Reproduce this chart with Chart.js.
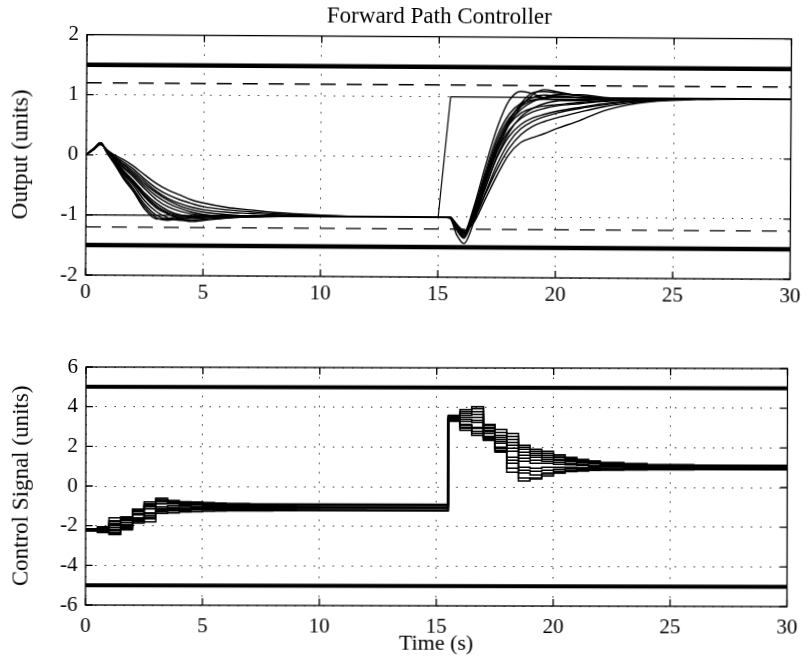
<!DOCTYPE html>
<html>
<head>
<meta charset="utf-8">
<script src="https://cdn.jsdelivr.net/npm/chart.js@4.4.0/dist/chart.umd.min.js"></script>
<style>
  html, body { margin: 0; background: #fff; overflow: hidden; }
  .panel { position: absolute; left: 0; width: 807px; }
  #top { top: 0; height: 300px; transform-origin: 87px 35px; transform: rotate(0.35deg); }
  #bottom { top: 300px; height: 364px; transform-origin: 86px 67px; transform: rotate(0.13deg); }
</style>
</head>
<body>
<div class="panel" id="top"><canvas id="outputChart" width="807" height="300"></canvas></div>
<div class="panel" id="bottom"><canvas id="controlChart" width="807" height="364"></canvas></div>
<script>
// sample times of the plant output traces (s)
const outTimes = [0, 0.3, 0.6, 0.9, 1.2, 1.6, 2, 2.5, 3, 3.5, 4, 4.5, 5, 6, 7, 8, 10, 12, 15,
  15.5, 15.8, 16.1, 16.5, 17, 17.5, 18, 18.5, 19, 19.5, 20, 21, 22, 23, 24, 26, 30];

// output of each closed-loop run
const outputRuns = [
  [0, 0.08, 0.17, 0.08, 0.0, -0.08, -0.18, -0.33, -0.47, -0.58, -0.66, -0.74, -0.79, -0.86, -0.9, -0.94, -0.98, -1.0, -1.0,
   -1.0, -1.15, -1.25, -0.85, -0.15, 0.5, 0.95, 1.1, 1.06, 0.99, 0.96, 0.95, 0.97, 0.98, 0.99, 1.0, 1.0],
  [0, 0.09, 0.18, 0.06, -0.04, -0.15, -0.27, -0.44, -0.6, -0.72, -0.8, -0.86, -0.9, -0.94, -0.96, -0.98, -1.0, -1.0, -1.0,
   -1.02, -1.3, -1.44, -1.1, -0.45, 0.1, 0.55, 0.85, 1.05, 1.13, 1.1, 1.03, 1.0, 0.99, 1.0, 1.0, 1.0],
  [0, 0.1, 0.19, 0.05, -0.07, -0.22, -0.36, -0.56, -0.74, -0.86, -0.93, -0.97, -0.99, -1.0, -1.0, -1.0, -1.0, -1.0, -1.0,
   -1.0, -1.12, -1.22, -1.1, -0.7, -0.3, 0.05, 0.25, 0.33, 0.4, 0.48, 0.62, 0.78, 0.88, 0.94, 0.98, 1.0],
  [0, 0.1, 0.2, 0.04, -0.1, -0.3, -0.47, -0.7, -0.88, -0.98, -1.03, -1.05, -1.04, -1.02, -1.01, -1.0, -1.0, -1.0, -1.0,
   -1.0, -1.15, -1.25, -1.0, -0.5, 0.0, 0.35, 0.55, 0.66, 0.72, 0.77, 0.84, 0.9, 0.94, 0.97, 0.99, 1.0],
  [0, 0.1, 0.2, 0.03, -0.12, -0.35, -0.55, -0.82, -1.0, -1.06, -1.06, -1.04, -1.02, -1.01, -1.0, -1.0, -1.0, -1.0, -1.0,
   -1.0, -1.18, -1.27, -0.95, -0.35, 0.2, 0.55, 0.74, 0.82, 0.86, 0.88, 0.92, 0.95, 0.97, 0.99, 1.0, 1.0],
  [0, 0.1, 0.2, 0.02, -0.15, -0.4, -0.6, -0.9, -1.06, -1.05, -1.02, -1.01, -1.0, -1.0, -1.0, -1.0, -1.0, -1.0, -1.0,
   -1.0, -1.2, -1.3, -0.9, -0.25, 0.35, 0.72, 0.9, 0.96, 0.97, 0.97, 0.97, 0.98, 0.99, 1.0, 1.0, 1.0],
  [0, 0.1, 0.2, 0.04, -0.1, -0.32, -0.5, -0.76, -0.94, -1.04, -1.08, -1.08, -1.06, -1.03, -1.01, -1.0, -1.0, -1.0, -1.0,
   -1.0, -1.16, -1.24, -1.05, -0.6, -0.12, 0.25, 0.48, 0.6, 0.68, 0.74, 0.82, 0.88, 0.93, 0.96, 0.99, 1.0],
  [0, 0.09, 0.19, 0.06, -0.05, -0.2, -0.33, -0.52, -0.68, -0.8, -0.88, -0.94, -0.98, -1.02, -1.02, -1.01, -1.0, -1.0, -1.0,
   -1.0, -1.2, -1.32, -0.92, -0.3, 0.28, 0.65, 0.85, 0.95, 1.0, 1.02, 1.0, 0.99, 0.99, 1.0, 1.0, 1.0],
  [0, 0.09, 0.18, 0.07, -0.03, -0.17, -0.3, -0.48, -0.63, -0.75, -0.84, -0.9, -0.94, -0.98, -1.0, -1.0, -1.0, -1.0, -1.0,
   -1.0, -1.17, -1.26, -0.98, -0.42, 0.1, 0.45, 0.65, 0.76, 0.82, 0.86, 0.9, 0.94, 0.96, 0.98, 1.0, 1.0],
  [0, 0.1, 0.2, 0.05, -0.08, -0.26, -0.42, -0.63, -0.8, -0.92, -0.99, -1.02, -1.02, -1.01, -1.0, -1.0, -1.0, -1.0, -1.0,
   -1.0, -1.22, -1.35, -1.0, -0.4, 0.15, 0.6, 0.9, 1.08, 1.1, 1.08, 1.03, 1.0, 0.99, 1.0, 1.0, 1.0],
  [0, 0.09, 0.18, 0.07, -0.02, -0.12, -0.23, -0.4, -0.55, -0.66, -0.74, -0.8, -0.85, -0.9, -0.93, -0.96, -0.99, -1.0, -1.0,
   -1.0, -1.14, -1.23, -1.06, -0.62, -0.2, 0.15, 0.38, 0.52, 0.6, 0.66, 0.76, 0.85, 0.91, 0.95, 0.99, 1.0],
  [0, 0.1, 0.2, 0.05, -0.1, -0.28, -0.45, -0.68, -0.85, -0.95, -1.0, -1.01, -1.01, -1.0, -1.0, -1.0, -1.0, -1.0, -1.0,
   -1.0, -1.19, -1.29, -0.97, -0.38, 0.2, 0.62, 0.88, 1.0, 1.04, 1.03, 1.0, 0.99, 0.99, 1.0, 1.0, 1.0],
  [0, 0.1, 0.19, 0.04, -0.09, -0.27, -0.44, -0.66, -0.84, -0.97, -1.06, -1.1, -1.08, -1.04, -1.01, -1.0, -1.0, -1.0, -1.0,
   -1.0, -1.17, -1.27, -1.02, -0.52, 0.02, 0.42, 0.68, 0.82, 0.9, 0.94, 0.96, 0.98, 0.99, 1.0, 1.0, 1.0],
  [0, 0.1, 0.2, 0.03, -0.13, -0.38, -0.58, -0.86, -1.04, -1.08, -1.05, -1.02, -1.01, -1.0, -1.0, -1.0, -1.0, -1.0, -1.0,
   -1.0, -1.2, -1.33, -0.95, -0.33, 0.22, 0.58, 0.8, 0.93, 1.0, 1.05, 1.05, 1.01, 0.99, 1.0, 1.0, 1.0]
];

// setpoint (demand) signal
const refTimes = [0, 15, 15.5, 30];
const refValues = [-1, -1, 1, 1];

// output limits: hard (thick) and soft (dashed)
const outHardLimit = 1.5;
const outSoftLimit = 1.2;

// sample instants of the held control signal (s)
const ctrlTimes = [0, 0.5, 1, 1.5, 2, 2.5, 3, 3.5, 4, 4.5, 5, 5.5, 6, 7, 8, 9, 10, 12,
  15.5, 16, 16.5, 17, 17.5, 18, 18.5, 19, 19.5, 20, 20.5, 21, 21.5, 22, 23, 24, 26, 30];

const controlRuns = [
  [-2.2, -2.05, -1.6, -1.55, -1.16, -0.8, -0.6, -0.72, -0.78, -0.8, -0.82, -0.85, -0.87, -0.88, -0.88, -0.88, -0.88, -0.88,
   3.6, 3.9, 4.05, 3.15, 2.9, 2.7, 2.1, 1.9, 1.8, 1.62, 1.5, 1.4, 1.32, 1.25, 1.2, 1.15, 1.12, 1.1],
  [-2.2, -2.15, -1.8, -1.7, -1.3, -0.95, -0.7, -0.78, -0.82, -0.85, -0.87, -0.88, -0.9, -0.9, -0.9, -0.9, -0.9, -0.9,
   3.55, 3.7, 3.8, 3.0, 2.6, 2.4, 1.9, 1.7, 1.6, 1.5, 1.4, 1.3, 1.25, 1.2, 1.15, 1.1, 1.08, 1.07],
  [-2.2, -2.2, -2.0, -1.85, -1.45, -1.15, -0.9, -0.9, -0.92, -0.95, -0.97, -0.98, -0.98, -0.98, -0.97, -0.96, -0.95, -0.95,
   3.5, 3.5, 3.5, 2.85, 2.4, 2.1, 1.6, 1.5, 1.4, 1.35, 1.3, 1.22, 1.18, 1.12, 1.08, 1.05, 1.03, 1.02],
  [-2.25, -2.25, -2.1, -1.95, -1.6, -1.35, -1.05, -1.0, -1.0, -1.02, -1.03, -1.04, -1.05, -1.05, -1.05, -1.05, -1.05, -1.05,
   3.45, 3.3, 3.25, 2.7, 2.2, 1.8, 1.3, 1.2, 1.2, 1.15, 1.12, 1.1, 1.05, 1.02, 1.0, 1.0, 1.0, 1.0],
  [-2.25, -2.3, -2.25, -2.05, -1.7, -1.5, -1.2, -1.15, -1.12, -1.12, -1.12, -1.13, -1.14, -1.15, -1.15, -1.16, -1.17, -1.18,
   3.4, 3.15, 3.0, 2.55, 2.0, 1.5, 1.0, 0.95, 1.0, 1.0, 1.0, 0.98, 0.97, 0.96, 0.96, 0.96, 0.96, 0.96],
  [-2.2, -2.35, -2.4, -2.15, -1.8, -1.65, -1.3, -1.25, -1.22, -1.2, -1.2, -1.2, -1.2, -1.2, -1.2, -1.2, -1.2, -1.2,
   3.35, 3.0, 2.8, 2.45, 1.85, 1.2, 0.7, 0.6, 0.7, 0.8, 0.85, 0.88, 0.9, 0.9, 0.91, 0.92, 0.93, 0.93],
  [-2.15, -2.3, -2.45, -2.2, -1.87, -1.8, -1.37, -1.35, -1.3, -1.28, -1.26, -1.25, -1.24, -1.23, -1.22, -1.21, -1.21, -1.21,
   3.3, 2.85, 2.6, 2.35, 1.75, 0.75, 0.3, 0.45, 0.65, 0.72, 0.8, 0.82, 0.85, 0.86, 0.87, 0.88, 0.89, 0.9],
  [-2.2, -2.1, -1.9, -1.6, -1.25, -1.0, -0.75, -0.8, -0.85, -0.88, -0.9, -0.92, -0.93, -0.93, -0.93, -0.93, -0.93, -0.93,
   3.5, 3.6, 3.65, 2.95, 2.5, 2.25, 1.75, 1.6, 1.5, 1.4, 1.33, 1.25, 1.2, 1.15, 1.1, 1.07, 1.05, 1.04],
  [-2.2, -2.25, -1.95, -1.75, -1.4, -1.05, -0.8, -0.85, -0.88, -0.9, -0.92, -0.94, -0.95, -0.96, -0.96, -0.95, -0.95, -0.95,
   3.42, 3.4, 3.35, 2.78, 2.3, 1.95, 1.45, 1.35, 1.3, 1.25, 1.2, 1.15, 1.1, 1.07, 1.03, 1.02, 1.0, 1.0],
  [-2.22, -2.3, -2.2, -2.0, -1.65, -1.4, -1.12, -1.08, -1.06, -1.07, -1.08, -1.09, -1.1, -1.1, -1.1, -1.1, -1.1, -1.1,
   3.38, 3.1, 2.95, 2.5, 1.95, 1.35, 0.85, 0.8, 0.85, 0.9, 0.92, 0.92, 0.93, 0.93, 0.94, 0.94, 0.95, 0.95],
  [-2.18, -2.12, -1.75, -1.62, -1.2, -0.88, -0.65, -0.75, -0.8, -0.83, -0.85, -0.87, -0.88, -0.89, -0.9, -0.9, -0.9, -0.9,
   3.58, 3.8, 3.95, 3.1, 2.75, 2.55, 2.0, 1.8, 1.7, 1.56, 1.45, 1.35, 1.28, 1.22, 1.17, 1.12, 1.1, 1.08],
  [-2.24, -2.32, -2.35, -2.1, -1.75, -1.58, -1.25, -1.2, -1.17, -1.16, -1.16, -1.17, -1.17, -1.18, -1.18, -1.18, -1.19, -1.19,
   3.36, 2.95, 2.7, 2.4, 1.8, 0.95, 0.45, 0.4, 0.55, 0.7, 0.78, 0.82, 0.86, 0.88, 0.89, 0.9, 0.91, 0.92]
];

// actuator limits
const ctrlHardLimit = 5;

const serif = 'Liberation Serif';
Chart.defaults.font.family = serif;
Chart.defaults.color = '#000';

function pts(xs, ys) {
  return xs.map((x, i) => ({ x: x, y: ys[i] }));
}

function flat(value, width, dash) {
  return {
    data: [{ x: 0, y: value }, { x: 30, y: value }],
    borderColor: '#000',
    borderWidth: width,
    borderDash: dash || [],
    pointRadius: 0,
    tension: 0
  };
}

// box round the axes plus MATLAB style inward tick marks
const framePlugin = {
  id: 'frame',
  afterDraw(chart) {
    const { ctx, chartArea: a, scales: { x, y } } = chart;
    ctx.save();
    ctx.strokeStyle = '#000';
    ctx.lineWidth = 1.3;
    ctx.strokeRect(a.left, a.top, a.right - a.left, a.bottom - a.top);
    ctx.beginPath();
    x.ticks.forEach(t => {
      const px = x.getPixelForValue(t.value);
      ctx.moveTo(px, a.bottom); ctx.lineTo(px, a.bottom - 7);
      ctx.moveTo(px, a.top); ctx.lineTo(px, a.top + 7);
    });
    y.ticks.forEach(t => {
      const py = y.getPixelForValue(t.value);
      ctx.moveTo(a.left, py); ctx.lineTo(a.left + 7, py);
      ctx.moveTo(a.right, py); ctx.lineTo(a.right - 7, py);
    });
    ctx.stroke();
    ctx.restore();
  }
};

function axes(opts) {
  return {
    x: {
      type: 'linear',
      min: 0,
      max: 30,
      afterFit: s => { s.height = opts.xHeight; },
      ticks: { stepSize: 5, padding: opts.xPad, font: { size: 21 }, color: '#000' },
      grid: { color: '#333', lineWidth: 1, drawTicks: false },
      border: { display: false, dash: [1.5, 8] },
      title: {
        display: !!opts.xTitle,
        text: opts.xTitle || '',
        font: { size: 22 },
        color: '#000',
        padding: { top: 0, bottom: 8 }
      }
    },
    y: {
      min: opts.yMin,
      max: opts.yMax,
      afterFit: s => { s.width = opts.yWidth; },
      ticks: { stepSize: opts.yStep, padding: 8, font: { size: 21 }, color: '#000' },
      grid: { color: '#333', lineWidth: 1, drawTicks: false },
      border: { display: false, dash: [1.5, 8] },
      title: {
        display: true,
        text: opts.yTitle,
        font: { size: 23 },
        color: '#000',
        padding: { top: 8, bottom: 0 }
      }
    }
  };
}

// Output plot
const outputSets = [
  flat(outHardLimit, 4.5),
  flat(-outHardLimit, 4.5),
  flat(outSoftLimit, 1.4, [15, 11]),
  flat(-outSoftLimit, 1.4, [15, 11]),
  {
    data: pts(refTimes, refValues),
    borderColor: '#000',
    borderWidth: 1.2,
    pointRadius: 0,
    tension: 0
  }
];
outputRuns.forEach(run => {
  outputSets.push({
    data: pts(outTimes, run),
    borderColor: '#000',
    borderWidth: 1.4,
    pointRadius: 0,
    cubicInterpolationMode: 'monotone'
  });
});

new Chart(document.getElementById('outputChart').getContext('2d'), {
  type: 'line',
  data: { datasets: outputSets },
  options: {
    responsive: false,
    animation: false,
    layout: { padding: { left: 0, right: 11, top: 0, bottom: 0 } },
    plugins: {
      legend: { display: false },
      tooltip: { enabled: false },
      title: {
        display: true,
        fullSize: false,
        text: 'Forward Path Controller',
        font: { size: 23, weight: 'normal' },
        color: '#000',
        padding: { top: 1, bottom: 6 }
      }
    },
    scales: axes({ yMin: -2, yMax: 2, yStep: 1, yTitle: 'Output (units)', yWidth: 87, xHeight: 25, xPad: 5 })
  },
  plugins: [framePlugin]
});

// Control signal plot (zero-order hold)
const controlSets = [
  flat(ctrlHardLimit, 4),
  flat(-ctrlHardLimit, 4)
];
controlRuns.forEach(run => {
  controlSets.push({
    data: pts(ctrlTimes, run),
    borderColor: '#000',
    borderWidth: 1.5,
    pointRadius: 0,
    stepped: true
  });
});

new Chart(document.getElementById('controlChart').getContext('2d'), {
  type: 'line',
  data: { datasets: controlSets },
  options: {
    responsive: false,
    animation: false,
    layout: { padding: { left: 0, right: 12, top: 67, bottom: 0 } },
    plugins: {
      legend: { display: false },
      tooltip: { enabled: false }
    },
    scales: axes({ yMin: -6, yMax: 6, yStep: 2, yTitle: 'Control Signal (units)', yWidth: 86, xHeight: 59, xPad: 9, xTitle: 'Time (s)' })
  },
  plugins: [framePlugin]
});
</script>
</body>
</html>
